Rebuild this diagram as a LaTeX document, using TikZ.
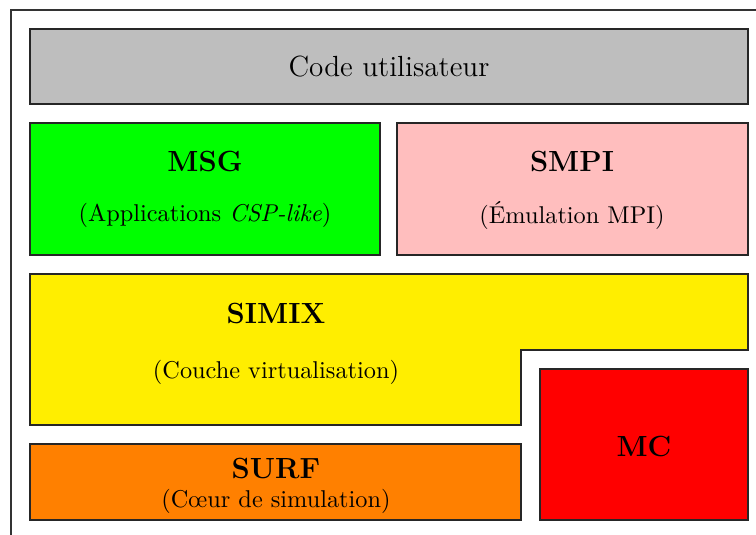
\documentclass[tikz,border=0pt]{standalone}
\usepackage{tikz}
\usepackage{xcolor}
\usepackage{fontspec}

\definecolor{simixyellow}{RGB}{255,238,0}
\definecolor{smpipink}{RGB}{255,190,190}
\definecolor{codegray}{RGB}{190,190,190}

\begin{document}
\begin{tikzpicture}[x=0.4114pt,y=-0.4114pt,
		layer/.style={draw=black!85,line width=0.5pt},
		title/.style={font=\large\bfseries},
		sub/.style={font=\normalsize}]
				\useasboundingbox (0,0) rectangle (756,534);
				\draw[black!80, line width=0.5pt] (760,10) -- (11,10) -- (11,540);
				% couches
				\draw[layer, fill=codegray] (30,29) rectangle (748,104);
				\draw[layer, fill=green] (30,123) rectangle (380,255);
				\draw[layer, fill=smpipink] (397,123) rectangle (748,255);
				\draw[layer, fill=simixyellow] (30,274) -- (748,274) -- (748,350) -- (521,350) -- (521,425) -- (30,425) -- cycle;
				\draw[layer, fill=orange] (30,444) rectangle (521,520);
				\draw[layer, fill=red] (540,369) rectangle (748,520);
				% textes
				\node(code) at (389,67)[font=\large]{Code utilisateur};
				\node(msg) at (205,161)[title]{MSG};
				\node(msgsub) at (205,215)[sub]{(Applications \emph{CSP-like})};
				\node(smpi) at (572,161)[title]{SMPI};
				\node(smpisub) at (572,215)[sub]{(Émulation MPI)};
				\node(simix) at (276,313)[title]{SIMIX};
				\node(simixsub) at (276,372)[sub]{(Couche virtualisation)};
				\node(surf) at (276,468)[title]{SURF};
				\node(surfsub) at (276,501)[sub]{(Cœur de simulation)};
				\node(mc) at (644,446)[title]{MC};
			\end{tikzpicture}
\end{document}
